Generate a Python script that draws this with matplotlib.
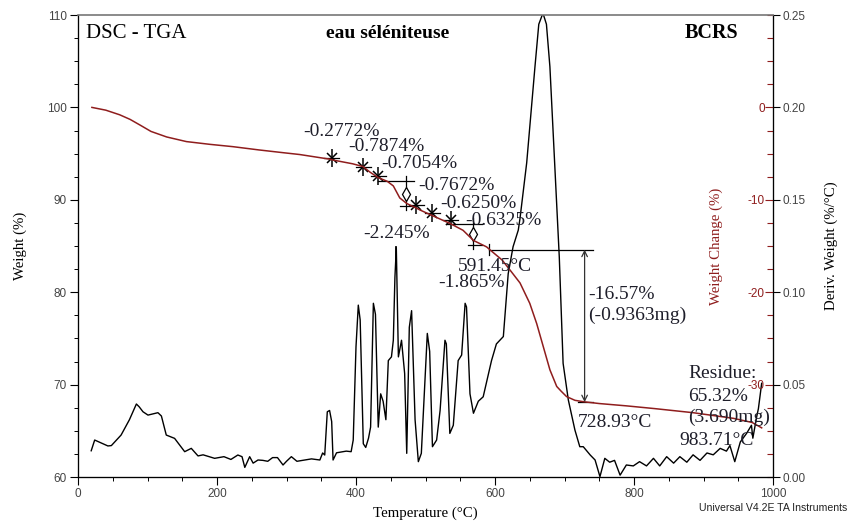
import matplotlib
matplotlib.use("Agg")
import matplotlib.pyplot as plt
from matplotlib.ticker import MultipleLocator, FormatStrFormatter
import numpy as np

plt.rcParams["axes.unicode_minus"] = False

# --- data ---
# TGA weight curve (%)
tga_temp = [20, 40, 60, 75, 89, 105, 127.6, 156, 190, 223, 260, 295, 319, 362, 367,
            395, 410, 420, 432, 445, 453.7, 463, 473, 487, 492, 511, 535, 554, 569,
            588, 593, 610, 621.6, 636, 650, 660, 669.5, 679, 688.8, 695, 703, 715,
            727, 750, 789, 830, 885, 943, 970, 983.7]
tga_weight = [100.0, 99.7, 99.2, 98.7, 98.1, 97.4, 96.8, 96.3, 96.0, 95.75, 95.4, 95.1,
              94.9, 94.4, 94.3, 93.9, 93.6, 93.0, 92.4, 92.0, 91.5, 90.2, 89.6, 89.1,
              88.9, 88.25, 87.45, 86.7, 85.6, 84.9, 84.57, 83.5, 82.4, 81.0, 78.8,
              76.6, 74.1, 71.6, 69.8, 69.3, 68.7, 68.3, 68.15, 67.95, 67.7, 67.4,
              66.96, 66.35, 65.9, 65.32]

# DTG curve (%/°C)
dtg_temp = [19, 24, 30, 43, 48, 62, 74, 84, 88, 93.5, 100.7, 115, 120, 127, 139, 153.5,
            163, 172.7, 180, 196.6, 210, 220, 230, 236, 240, 247, 252, 259, 266, 273,
            280, 287, 295, 300, 307, 315, 326, 336, 348, 352, 355, 358.7, 362, 365,
            367, 372, 386, 393, 396, 400, 403.3, 406, 410.5, 414, 418, 421, 425, 428,
            432, 435.5, 439, 443, 446.5, 451, 453.7, 456, 458, 461, 465.5, 470, 473,
            476.7, 480, 485, 489.7, 494, 499, 502.6, 506, 510, 516, 521, 528, 530,
            535, 540, 547, 552, 557, 559, 564, 569, 576, 583, 595, 602, 612, 619, 626,
            633.5, 636, 645.6, 657.5, 663, 669, 674, 679, 686, 692.5, 698, 705.5, 715,
            722, 727, 737, 744, 751, 758, 765, 772, 780, 789, 799, 808, 818, 828, 837,
            847, 857, 866, 876, 885, 895, 905, 914, 924, 933, 938, 945, 953, 962, 969,
            971, 976.5, 979, 983.7]
dtg_value = [0.0142, 0.020, 0.019, 0.0168, 0.017, 0.0227, 0.031, 0.0395, 0.038, 0.0353,
             0.0335, 0.0348, 0.033, 0.0227, 0.0209, 0.0137, 0.0155, 0.0114, 0.012,
             0.0101, 0.011, 0.0095, 0.0119, 0.011, 0.0052, 0.011, 0.0075, 0.0092,
             0.009, 0.0085, 0.0105, 0.0105, 0.0065, 0.0085, 0.011, 0.0085, 0.0092,
             0.0098, 0.0092, 0.013, 0.0119, 0.0353, 0.036, 0.030, 0.0092, 0.0131,
             0.014, 0.0137, 0.020, 0.0705, 0.093, 0.085, 0.018, 0.016, 0.021, 0.027,
             0.094, 0.088, 0.027, 0.045, 0.041, 0.031, 0.063, 0.065, 0.074, 0.108,
             0.124, 0.065, 0.074, 0.056, 0.0128, 0.081, 0.090, 0.031, 0.0083, 0.0128,
             0.0507, 0.0777, 0.068, 0.0164, 0.020, 0.036, 0.074, 0.072, 0.0236, 0.028,
             0.063, 0.066, 0.094, 0.092, 0.045, 0.0345, 0.041, 0.0434, 0.063, 0.072,
             0.076, 0.110, 0.1246, 0.1336, 0.140, 0.170, 0.222, 0.245, 0.251, 0.245,
             0.222, 0.168, 0.119, 0.0615, 0.0417, 0.0254, 0.0164, 0.0164, 0.0119,
             0.0092, 0.0002, 0.0101, 0.008, 0.009, 0.001, 0.0065, 0.006, 0.0083, 0.006,
             0.0101, 0.006, 0.011, 0.0075, 0.011, 0.008, 0.012, 0.009, 0.013, 0.012,
             0.0155, 0.014, 0.017, 0.0083, 0.019, 0.0236, 0.028, 0.021, 0.0326, 0.037,
             0.0507]

# small step markers on the TGA curve
step_temp = [365, 410.5, 432, 487, 510, 536]
step_weight = [94.5, 93.6, 92.6, 89.4, 88.6, 87.8]
diamond_temp = [472, 569]
diamond_top = [92.0, 87.4]
diamond_bottom = [89.3, 85.1]

# main step: 591.45 -> 728.93 °C
main_start, main_end = 591.45, 728.93
main_w_top, main_w_bottom = 84.6, 68.1

# labels (text, T of left edge, weight at centre)
step_labels = ["-0.2772%", "-0.7874%", "-0.7054%", "-0.7672%", "-0.6250%", "-0.6325%",
               "-2.245%", "591.45°C", "-1.865%", "-16.57%", "(-0.9363mg)",
               "Residue:", "65.32%", "(3.690mg)", "983.71°C", "728.93°C"]
label_temp = [323.7, 388.5, 437, 489, 521, 557, 410, 547, 518, 734, 734,
              877.7, 877.7, 877.7, 866, 719.5]
label_weight = [97.37, 95.75, 93.95, 91.5, 89.6, 87.8, 86.4, 82.8, 81.0, 79.7, 77.5,
                71.25, 68.7, 66.5, 64.0, 65.85]

red = "#8f1d1d"
serif = "Liberation Serif"
sans = "Liberation Sans"
tick_col = "#444444"

fig = plt.figure(figsize=(8.48, 5.22), dpi=100)
ax = fig.add_axes([78/848, 1 - 477/522, 695/848, 462/522])
ax_d = ax.twinx()
ax_c = ax.twinx()

# curves
ax_d.plot(dtg_temp, dtg_value, color="black", lw=1.0, zorder=2)
ax.plot(tga_temp, tga_weight, color=red, lw=1.1, zorder=3)
ax.set_zorder(ax_d.get_zorder() + 1)
ax.patch.set_visible(False)

# step markers
for t, w in zip(step_temp, step_weight):
    ax.plot([t - 11, t + 11], [w, w], color="black", lw=0.9)
    ax.plot(t, w, marker="x", ms=7, mew=1.1, color="black")
    ax.plot(t, w, marker="|", ms=13, mew=1.1, color="black")
for t, top, bot in zip(diamond_temp, diamond_top, diamond_bottom):
    ax.plot([t - 40, t + 12], [top, top], color="black", lw=0.9)
    ax.plot([t - 8, t + 12], [bot, bot], color="black", lw=0.9)
    ax.plot([t, t], [top + 0.6, bot - 0.4], color="black", lw=0.9)
    ax.plot(t, (top + bot) / 2, marker="d", ms=7, mfc="white", mec="black", mew=0.9)

ax.plot([457, 457], [84.9, 83.5], color="black", lw=1.3)
ax.plot([main_start, main_end + 12], [main_w_top, main_w_top], color="black", lw=0.9)
ax.plot([main_start, main_start], [main_w_top + 0.6, main_w_top - 0.6], color="black", lw=0.9)
ax.plot([main_end - 10, main_end + 12], [main_w_bottom, main_w_bottom], color="black", lw=0.9)
ax.annotate("", xy=(main_end, main_w_bottom), xytext=(main_end, main_w_top),
            arrowprops=dict(arrowstyle="<->", color="#333333", lw=0.9,
                            shrinkA=0, shrinkB=0))

for s, t, w in zip(step_labels, label_temp, label_weight):
    ax.text(t, w, s, fontsize=14, family=serif, color="#1e1e2a",
            ha="left", va="center", zorder=5)

# axes: left weight
ax.set_xlim(0, 1000)
ax.set_ylim(60, 110)
ax.xaxis.set_major_locator(MultipleLocator(200))
ax.xaxis.set_minor_locator(MultipleLocator(50))
ax.yaxis.set_major_locator(MultipleLocator(10))
ax.yaxis.set_minor_locator(MultipleLocator(2.5))
ax.tick_params(which="major", length=6, width=0.8, labelsize=8.5, labelcolor=tick_col,
               direction="out", pad=2)
ax.tick_params(which="minor", length=3, width=0.7, direction="out")
for lab in ax.get_xticklabels() + ax.get_yticklabels():
    lab.set_family(sans)
ax.set_xlabel("Temperature (°C)", family=serif, fontsize=10.7, va="center")
ax.xaxis.set_label_coords(0.5, (477 - 513) / 462)
ax.set_ylabel("Weight (%)", family=serif, fontsize=10.7, va="center")
ax.yaxis.set_label_coords((20 - 78) / 695, 0.5)
ax.spines["top"].set_color("#777777")
ax.spines["top"].set_linewidth(1.2)

# right: derivative
ax_d.set_ylim(0, 0.25)
ax_d.yaxis.set_major_locator(MultipleLocator(0.05))
ax_d.yaxis.set_major_formatter(FormatStrFormatter("%.2f"))
ax_d.tick_params(axis="y", length=5, width=0.8, labelsize=8.5, labelcolor=tick_col, pad=2)
for lab in ax_d.get_yticklabels():
    lab.set_family(sans)
ax_d.set_ylabel("Deriv. Weight (%/°C)", family=serif, fontsize=10.7, va="center")
ax_d.yaxis.set_label_coords((831 - 78) / 695, 0.5)

# inner right: weight change
ax_c.set_ylim(-40, 10)
ax_c.set_yticks([0, -10, -20, -30])
ax_c.yaxis.set_minor_locator(MultipleLocator(2.5))
ax_c.tick_params(axis="y", which="major", direction="in", length=6, width=0.8,
                 color=red, labelcolor=red, labelsize=8.5, pad=-6)
ax_c.tick_params(axis="y", which="minor", direction="in", length=4, width=0.8, color=red)
for lab in ax_c.get_yticklabels():
    lab.set_family(sans)
    lab.set_horizontalalignment("right")
ax_c.set_ylabel("Weight Change (%)", family=serif, fontsize=10.7, color=red, va="center")
ax_c.yaxis.set_label_coords((716 - 78) / 695, 0.5)
for a in (ax_d, ax_c):
    a.spines["top"].set_visible(False)

# headings
ax.text(0.0115, 0.961, "DSC - TGA", transform=ax.transAxes, family=serif,
        fontsize=15, ha="left", va="center")
ax.text(0.445, 0.961, "eau séléniteuse", transform=ax.transAxes, family=serif,
        fontsize=14, fontweight="bold", ha="center", va="center")
ax.text(0.9115, 0.961, "BCRS", transform=ax.transAxes, family=serif,
        fontsize=14.5, fontweight="bold", ha="center", va="center")
fig.text(0.999, 0.027, "Universal V4.2E TA Instruments", family=sans, fontsize=7.6,
         color="#222222", ha="right", va="center")

fig.savefig("out.png", dpi=100)
